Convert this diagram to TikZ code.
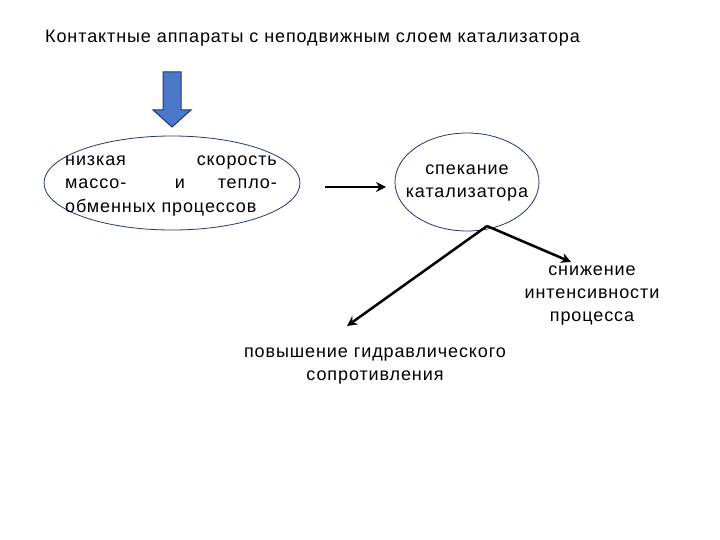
\documentclass[tikz,border=0pt]{standalone}
\usepackage{fontspec}
\setmainfont{Liberation Sans}[LetterSpace=5]
\usetikzlibrary{arrows.meta}
\definecolor{arrowblue}{RGB}{75,120,200}
\definecolor{ellipseedge}{RGB}{40,50,120}
\tikzset{
 txt/.style={font=\fontsize{18}{23}\selectfont, inner sep=0pt},
 conn/.style={draw=black, line width=2.5pt, -{Stealth[length=10pt,width=10pt]}},
 oval/.style={draw=ellipseedge, line width=0.8pt}
}
\begin{document}
\begin{tikzpicture}[x=1pt,y=-1pt]
\useasboundingbox (0,0) rectangle (720,540);
\node[txt, anchor=base west] (title) at (45,43) {Контактные аппараты с неподвижным слоем катализатора};
\draw[draw=ellipseedge, line width=1pt, fill=arrowblue] (163,72) -- (181,72) -- (181,110) -- (191,110) -- (172,127) -- (153,110) -- (163,110) -- cycle;
\draw[oval] (172,183) ellipse [x radius=128, y radius=47];
\node[txt, anchor=base west] (l1a) at (65,166) {низкая};
\node[txt, anchor=base east] (l1b) at (277,166) {скорость};
\node[txt, anchor=base west] (l2a) at (65,189) {массо-};
\node[txt, anchor=base] (l2b) at (180,189) {и};
\node[txt, anchor=base east] (l2c) at (277,189) {тепло-};
\node[txt, anchor=base west] (l3) at (65,212) {обменных процессов};
\draw[oval] (467,182) ellipse [x radius=72, y radius=49];
\node[txt, align=center] (e2) at (467,183) {спекание\\катализатора};
\coordinate (a1s) at (325,187);
\coordinate (a1e) at (386,187);
\draw[conn] (a1s) -- (a1e);
\coordinate (split) at (487,226);
\node[txt, align=center] (right) at (592,296) {снижение\\интенсивности\\процесса};
\node[txt, align=center] (bottom) at (375,366) {повышение гидравлического\\сопротивления};
\coordinate (re) at (571,262);
\coordinate (le) at (347,326);
\draw[conn] (split) -- (re);
\draw[conn] (split) -- (le);
\end{tikzpicture}
\end{document}
